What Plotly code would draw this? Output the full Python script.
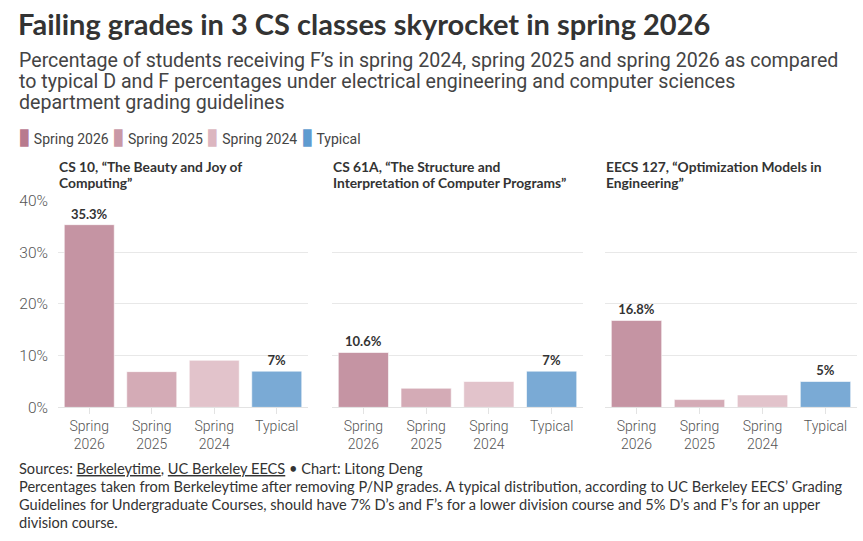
import plotly.graph_objects as go
from plotly.subplots import make_subplots

# ---- data ----
categories = ["Spring 2026", "Spring 2025", "Spring 2024", "Typical"]
tick_labels = ["Spring<br>2026", "Spring<br>2025", "Spring<br>2024", "Typical"]
course_lines = [
    ["CS 10, “The Beauty and Joy of", "Computing”"],
    ["CS 61A, “The Structure and", "Interpretation of Computer Programs”"],
    ["EECS 127, “Optimization Models in", "Engineering”"],
]
cs10 = [35.3, 6.9, 9.1, 7]
cs61a = [10.6, 3.7, 5.0, 7]
eecs127 = [16.8, 1.5, 2.4, 5]
values = [cs10, cs61a, eecs127]
labelled = [True, False, False, True]

bar_colors = ["#c594a3", "#d4abb6", "#e2c3cb", "#7aaad5"]
legend_colors = ["#b87a8e", "#c998a6", "#dcb6c0", "#5f9bd0"]

W, H = 863, 541
# the viewer shows the page with an 8px top offset and a 541/557 vertical squeeze
VS = 557 / 541
TOP = 8
def px_x(p):
    return p / W
def px_y(p):
    return 1 - (p * VS - TOP) / H

FONT = "Lato"
TICK_FONT = "Roboto"

fig = make_subplots(rows=1, cols=3, shared_yaxes=True, horizontal_spacing=0.02)

for c, vals in enumerate(values):
    for i, cat in enumerate(categories):
        fig.add_trace(
            go.Bar(
                x=[tick_labels[i]], y=[vals[i]],
                marker=dict(color=bar_colors[i], line=dict(color="rgba(255,255,255,0.6)", width=1)),
                text=[f"<b>{vals[i]:g}%</b>"] if labelled[i] else None,
                textposition="outside",
                textfont=dict(family=FONT, size=13, color="#333"),
                cliponaxis=False,
                showlegend=False,
                hoverinfo="skip",
                name=cat,
            ),
            row=1, col=c + 1,
        )

domains = [[58, 308], [332, 583], [605, 857]]
ydom = [px_y(408), px_y(200)]
for c in range(3):
    xa = "xaxis" if c == 0 else f"xaxis{c+1}"
    ya = "yaxis" if c == 0 else f"yaxis{c+1}"
    fig.layout[xa].update(
        domain=[px_x(domains[c][0]), px_x(domains[c][1])],
        categoryorder="array", categoryarray=tick_labels,
        showline=True, linecolor="#e3e3e3", linewidth=1,
        ticks="outside", ticklen=6, tickcolor="#e3e3e3",
        tickfont=dict(family=TICK_FONT, size=14, color="#555", weight=300),
        showgrid=False, fixedrange=True,
    )
    fig.layout[ya].update(
        domain=ydom, range=[0, 40], dtick=10,
        ticksuffix="%", showgrid=True, gridcolor="#e8e8e8", gridwidth=1,
        zeroline=False, showticklabels=(c == 0),
        ticklabelstandoff=9,
        tickfont=dict(family=TICK_FONT, size=15.5, color="#555", weight=300),
        fixedrange=True,
    )

fig.update_layout(
    barmode="relative",
    bargap=0.2,
    width=W, height=H,
    margin=dict(l=0, r=0, t=0, b=0),
    plot_bgcolor="white", paper_bgcolor="white",
    showlegend=False,
)

anns = []
def text(x, y, s, size, color="#333", bold=False, family=FONT, anchor="left", weight=None):
    f = dict(family=family, size=size, color=color)
    if weight:
        f["weight"] = weight
    anns.append(dict(
        x=px_x(x), y=px_y(y), xref="paper", yref="paper",
        xanchor=anchor, yanchor="middle", showarrow=False, align="left",
        text=(f"<b>{s}</b>" if bold else s),
        font=f,
    ))

text(16, 22, "Failing grades in 3 CS classes skyrocket in spring 2026", 29, "#333", bold=True)
sub = [
    "Percentage of students receiving F’s in spring 2024, spring 2025 and spring 2026 as compared",
    "to typical D and F percentages under electrical engineering and computer sciences",
    "department grading guidelines",
]
for k, s in enumerate(sub):
    text(17, 59.5 + 21.3 * k, s, 19.6, "#444", family=TICK_FONT)

leg = "&nbsp;".join(
    f"<span style='color:{legend_colors[i]};font-size:23px'>▮</span>\u2009{categories[i]}" for i in range(4)
)
text(16, 136, leg, 14, "#444", family=TICK_FONT)

for c in range(3):
    for k, s in enumerate(course_lines[c]):
        text(domains[c][0] - 1, 166 + 15.8 * k, s, 13.8, "#333", bold=True)

foot = [
    "Sources: <u>Berkeleytime</u>, <u>UC Berkeley EECS</u> • Chart: Litong Deng",
    "Percentages taken from Berkeleytime after removing P/NP grades. A typical distribution, according to UC Berkeley EECS’ Grading",
    "Guidelines for Undergraduate Courses, should have 7% D’s and F’s for a lower division course and 5% D’s and F’s for an upper",
    "division course.",
]
for k, s in enumerate(foot):
    text(17, 469 + 18.3 * k, s, 14.6, "#333")

fig.update_layout(annotations=anns)
fig.write_html("out.html")
